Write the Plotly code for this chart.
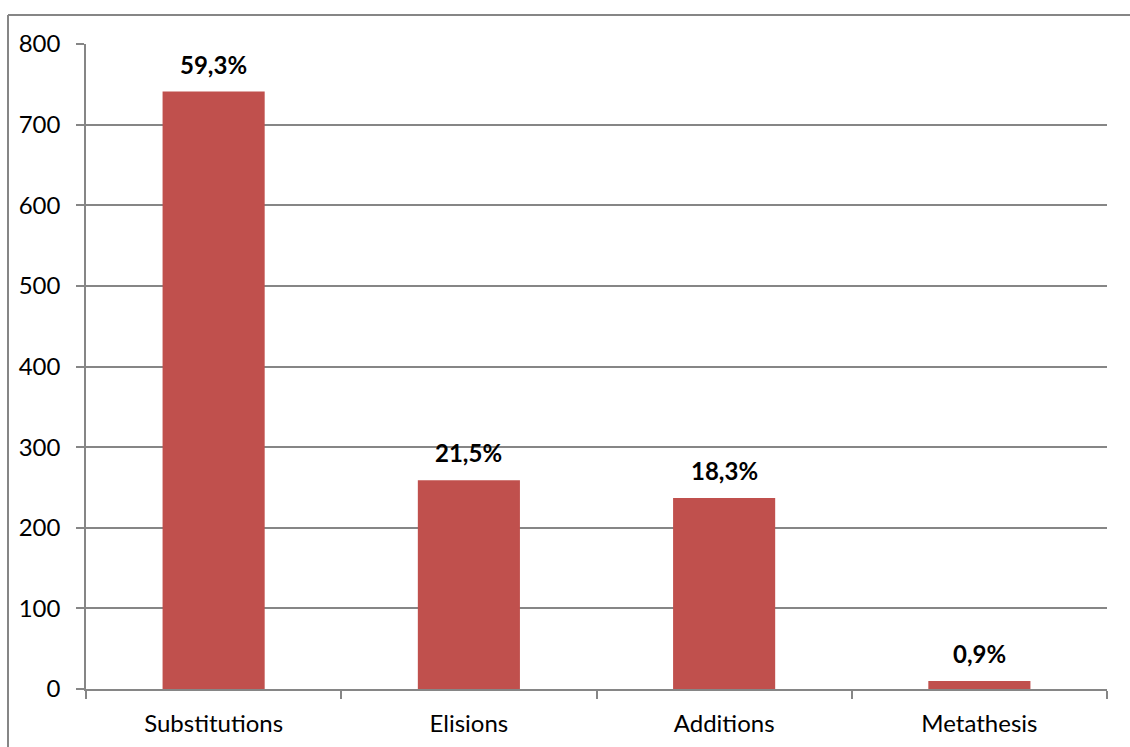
import plotly.graph_objects as go

# Error types and their counts
categories = ["Substitutions", "Elisions", "Additions", "Metathesis"]
counts = [741, 259, 237, 10]
share_labels = ["59,3%", "21,5%", "18,3%", "0,9%"]

bar_color = "#C0504D"
axis_gray = "#868686"
font_family = "Lato, 'Open Sans', sans-serif"
font_size = 24

W, H = 1130, 747
margin = dict(l=86, r=23, t=44, b=58)
plot_w = W - margin["l"] - margin["r"]
plot_h = H - margin["t"] - margin["b"]

fig = go.Figure(
    go.Bar(
        x=categories,
        y=counts,
        marker=dict(color=bar_color, line=dict(width=0)),
        width=0.4,
        hoverinfo="x+y",
    )
)

# Percentage labels above each bar
for cat, val, lab in zip(categories, counts, share_labels):
    fig.add_annotation(
        x=cat, y=val, text=f"<b>{lab}</b>", showarrow=False,
        yanchor="bottom", yshift=11,
        font=dict(family=font_family, size=font_size, color="#000000"),
    )

# Outer chart frame (top and left edges)
fx0 = (8 - margin["l"]) / plot_w
fy_top = 1 + (margin["t"] - 15) / plot_h
fig.add_shape(type="line", xref="paper", yref="paper",
              x0=fx0, x1=1.1, y0=fy_top, y1=fy_top,
              line=dict(color=axis_gray, width=2))
fig.add_shape(type="line", xref="paper", yref="paper",
              x0=fx0, x1=fx0, y0=fy_top, y1=-0.2,
              line=dict(color=axis_gray, width=2))

fig.update_layout(
    width=W, height=H,
    margin=margin,
    paper_bgcolor="white",
    plot_bgcolor="white",
    showlegend=False,
    font=dict(family=font_family, size=font_size, color="#000000"),
)

fig.update_xaxes(
    automargin=False,
    showline=True, linecolor=axis_gray, linewidth=1.5,
    ticks="outside", tickson="boundaries", ticklen=8,
    tickcolor=axis_gray, tickwidth=1.5,
    showgrid=False,
    tickfont=dict(family=font_family, size=font_size, color="#000000"),
    ticklabelstandoff=12,
)

fig.update_yaxes(
    automargin=False,
    range=[0, 800], dtick=100,
    showline=True, linecolor=axis_gray, linewidth=1.5,
    ticks="outside", ticklen=8, tickcolor=axis_gray, tickwidth=1.5,
    showgrid=True, gridcolor=axis_gray, gridwidth=1.5,
    zeroline=False,
    tickfont=dict(family=font_family, size=font_size, color="#000000"),
    ticklabelstandoff=11,
)

fig.write_html("out.html")
